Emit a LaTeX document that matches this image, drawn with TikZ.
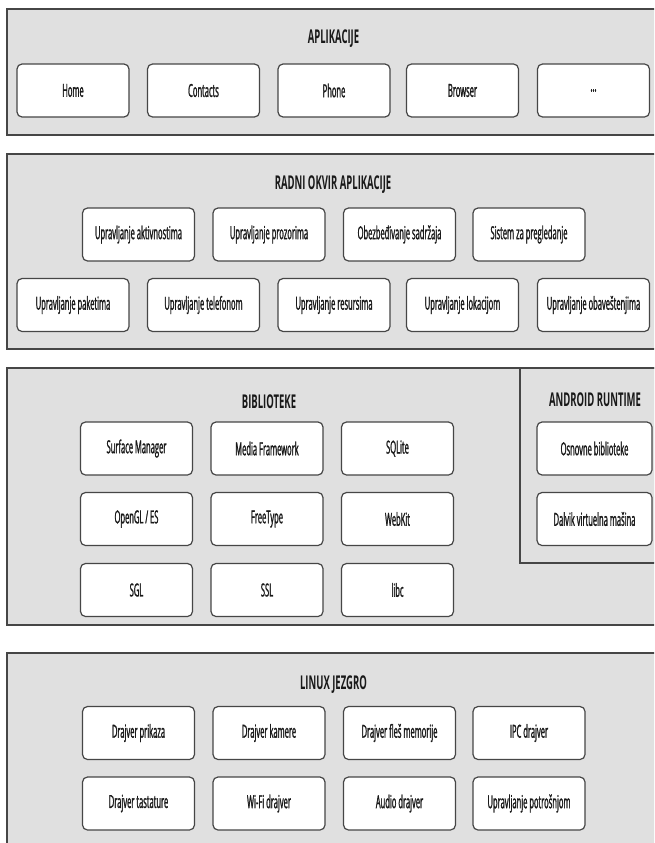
\documentclass[tikz,border=0pt]{standalone}
\usepackage{fontspec}
\newfontfamily\itemfamily[FakeStretch=0.42,FakeBold=1.2]{Open Sans}
\newfontfamily\titlefamily[FakeStretch=0.5]{Open Sans}
\definecolor{layerbg}{RGB}{224,224,224}
\definecolor{linec}{RGB}{70,70,70}
\tikzset{
  layer/.style={draw=linec, line width=1.4pt, fill=layerbg},
  item/.style={draw=linec, line width=1.2pt, fill=white, rounded corners=5pt,
    minimum width=112pt, minimum height=53pt, inner sep=0pt,
    font=\itemfamily\fontsize{18}{20}\selectfont, text=black!90},
  ttl/.style={font=\titlefamily\bfseries\fontsize{19}{21}\selectfont, text=black!90, inner sep=0pt}
}
\begin{document}
\begin{tikzpicture}[x=1pt,y=-1pt]
\useasboundingbox (0,0) rectangle (654,843);
\clip (0,0) rectangle (654,843);
% layers
\path[layer] (7,9) rectangle (662,135);
\path[layer] (7,154) rectangle (662,349);
\path[layer] (7,368) rectangle (662,625);
\path[layer] (520,368) rectangle (662,563);
\path[layer] (7,653) rectangle (662,852);
% titles
\node[ttl] (t1) at (333.5,39) {APLIKACIJE};
\node[ttl] (t2) at (333,185) {RADNI OKVIR APLIKACIJE};
\node[ttl] (t3) at (269,402) {BIBLIOTEKE};
\node[ttl] (t4) at (595,400) {ANDROID RUNTIME};
\node[ttl] (t5) at (333.5,685) {LINUX JEZGRO};
% applications
\node[item] (a1) at (73,90.5) {Home};
\node[item] (a2) at (203.5,90.5) {Contacts};
\node[item] (a3) at (334,90.5) {Phone};
\node[item] (a4) at (462.5,90.5) {Browser};
\node[item] (a5) at (593.5,90.5) {...};
% framework
\node[item] (f1) at (138.5,234.5) {Upravljanje aktivnostima};
\node[item] (f2) at (269,234.5) {Upravljanje prozorima};
\node[item] (f3) at (399.5,234.5) {Obezbeđivanje sadržaja};
\node[item] (f4) at (529,234.5) {Sistem za pregledanje};
\node[item] (f5) at (73,305) {Upravljanje paketima};
\node[item] (f6) at (203.5,305) {Upravljanje telefonom};
\node[item] (f7) at (334,305) {Upravljanje resursima};
\node[item] (f8) at (462.5,305) {Upravljanje lokacijom};
\node[item] (f9) at (593.5,305) {Upravljanje obaveštenjima};
% libraries
\node[item] (b1) at (136.5,448.5) {Surface Manager};
\node[item] (b2) at (267,448.5) {Media Framework};
\node[item] (b3) at (397.5,448.5) {SQLite};
\node[item] (b4) at (136.5,519) {OpenGL / ES};
\node[item] (b5) at (267,519) {FreeType};
\node[item] (b6) at (397.5,519) {WebKit};
\node[item] (b7) at (136.5,590) {SGL};
\node[item] (b8) at (267,590) {SSL};
\node[item] (b9) at (397.5,590) {libc};
% runtime
\node[item, minimum width=115pt] (r1) at (594.5,448.5) {Osnovne biblioteke};
\node[item, minimum width=115pt] (r2) at (594.5,519) {Dalvik virtuelna mašina};
% kernel
\node[item] (k1) at (138.5,733) {Drajver prikaza};
\node[item] (k2) at (269,733) {Drajver kamere};
\node[item] (k3) at (399.5,733) {Drajver fleš memorije};
\node[item] (k4) at (529,733) {IPC drajver};
\node[item] (k5) at (138.5,803.5) {Drajver tastature};
\node[item] (k6) at (269,803.5) {Wi-Fi drajver};
\node[item] (k7) at (399.5,803.5) {Audio drajver};
\node[item] (k8) at (529,803.5) {Upravljanje potrošnjom};
\end{tikzpicture}
\end{document}
